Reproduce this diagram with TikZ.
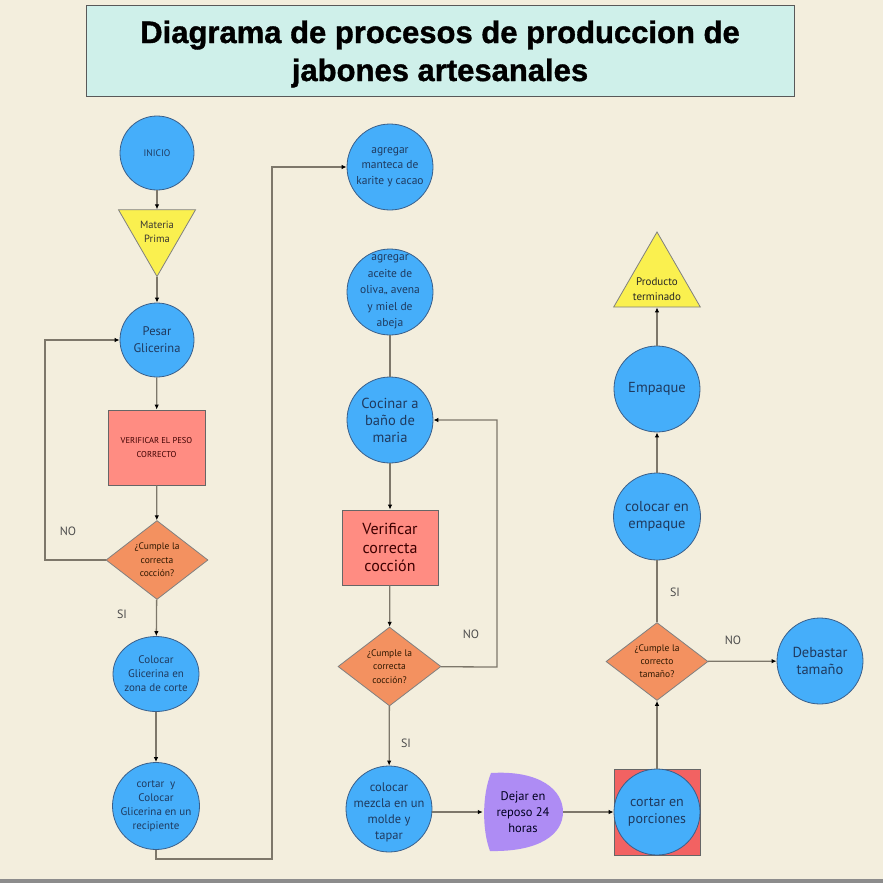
\documentclass[tikz,border=0pt]{standalone}
\usepackage{fontspec}
\setmainfont{PT Sans}
\newfontfamily\titlefont[BoldFeatures={FakeBold=1.2}]{Liberation Sans}
\usetikzlibrary{shapes.geometric,arrows.meta}
\definecolor{fondo}{HTML}{F3EEDD}
\definecolor{titulo}{HTML}{CFF0EA}
\definecolor{azul}{HTML}{45AEFA}
\definecolor{bordeazul}{HTML}{3A5F8A}
\definecolor{textoazul}{HTML}{1F3A5F}
\definecolor{rosa}{HTML}{FF8C82}
\definecolor{rojo}{HTML}{F26262}
\definecolor{naranja}{HTML}{F39160}
\definecolor{amarillo}{HTML}{FAF04F}
\definecolor{morado}{HTML}{AE8CF4}
\definecolor{lineagris}{HTML}{7D776A}
\def\fs#1#2{\fontsize{#1}{#2}\selectfont}
\tikzset{
  linea/.style={draw=lineagris, line width=1.3pt},
  flecha/.style={linea, -{Latex[length=5pt,width=4.5pt,color=black]}},
  paso/.style={circle, draw=bordeazul, line width=0.8pt, fill=azul, text=textoazul,
    inner sep=0pt, minimum size=86pt, align=center},
  textoazul/.style={inner sep=0pt, align=center, text=textoazul},
  revisar/.style={rectangle, draw=black!60, line width=0.8pt, fill=rosa, text=black!60!red!60!black,
    inner sep=0pt, align=center},
  decision/.style={diamond, draw=black!50, line width=0.8pt, fill=naranja, text=black!70!orange!60!black,
    inner sep=0pt, minimum width=102pt, minimum height=74pt, align=center},
  triang/.style={regular polygon, regular polygon sides=3, draw=black!50, line width=0.8pt,
    fill=amarillo, inner sep=0pt},
  etiq/.style={text=black!70, font=\fs{12}{14}}
}
\begin{document}
\begin{tikzpicture}[x=1pt,y=-1pt]
\useasboundingbox[fill=fondo] (0,0) rectangle (883,883);
\fill[black!45] (0,879) rectangle (883,883);
% titulo
\node[draw=black!65, line width=0.8pt, fill=titulo, minimum width=708pt, minimum height=91pt] (tit) at (440,50.5) {};
\node[align=center, font=\titlefont\bfseries\fs{31}{38}] (titt) at (440,54) {Diagrama de procesos de produccion de\\jabones artesanales};
% primera columna
\node[paso, minimum size=74pt, font=\fs{9.5}{10}] (ini) at (157,153) {INICIO};
\node[triang, shape border rotate=180, minimum size=89pt] (mp) at (157,232) {};
\node[align=center, text=black!80!yellow!50!black, font=\fs{10.5}{14}] (mpt) at (157,232) {Materia\\Prima};
\node[paso, minimum size=74pt, font=\fs{12.5}{17}] (pes) at (157,340) {Pesar\\Glicerina};
\node[revisar, minimum width=97pt, minimum height=75pt, font=\fs{8.5}{13.5}] (vp) at (156.5,447.5) {VERIFICAR EL PESO\\CORRECTO};
\node[decision, font=\fs{9.5}{13.5}] (d1) at (157,560) {¿Cumple la\\correcta\\cocción?};
\node[paso, ellipse, minimum width=86pt, minimum height=75pt] (zon) at (156,674) {};
\node[textoazul, font=\fs{11}{14}] (zont) at (156,674) {Colocar\\Glicerina en\\zona de corte};
\node[paso, minimum size=87pt] (rec) at (156,806) {};
\node[textoazul, font=\fs{11}{14}] (rect) at (156,806) {cortar\ \ y\\Colocar\\Glicerina en un\\recipiente};
% segunda columna
\node[paso] (man) at (390,167) {};
\node[textoazul, font=\fs{11.5}{15.5}] (mant) at (390,167) {agregar\\manteca de\\karite y cacao};
\node[paso] (ace) at (390,292) {};
\node[textoazul, font=\fs{11.5}{16.5}] (acet) at (390,292) {agregar\\aceite de\\oliva,, avena\\y miel de\\abeja};
\node[paso, font=\fs{14.5}{17}] (coc) at (390,420) {Cocinar a\\baño de\\maria};
\node[revisar, minimum width=96pt, minimum height=75pt, font=\fs{16}{18.5}] (vc) at (390,547.5) {Verificar\\correcta\\cocción};
\node[decision, minimum width=103pt, minimum height=73pt, font=\fs{9.5}{13.5}] (d2) at (389.5,666.5) {¿Cumple la\\correcta\\cocción?};
\node[paso] (mol) at (389,809) {};
\node[textoazul, font=\fs{12.5}{16}] (molt) at (389,812) {colocar\\mezcla en un\\molde y\\tapar};
% reposo
\fill[morado] (491,773) .. controls (540,770) and (563,790) .. (563,812)
  .. controls (563,834) and (540,852) .. (490,851)
  .. controls (482,830) and (482,795) .. (491,773) -- cycle;
\node[minimum width=80pt, minimum height=78pt, inner sep=0pt, align=center, text=black!70!blue!40!black,
  font=\fs{12.5}{16}] (dej) at (523,812) {Dejar en\\reposo 24\\horas};
% tercera columna
\node[rectangle, draw=black!60, line width=0.8pt, fill=rojo, minimum size=86pt, inner sep=0pt] (por) at (657,812) {};
\node[paso, font=\fs{14}{17}] (porc) at (657,812) {cortar en\\porciones};
\node[decision, font=\fs{9.5}{13}] (d3) at (657,661.5) {¿Cumple la\\correcto\\tamaño?};
\node[paso, font=\fs{14.5}{17}] (deb) at (820,661) {Debastar\\tamaño};
\node[paso, minimum size=87pt, font=\fs{14.5}{17}] (emp1) at (657,516.5) {colocar en\\empaque};
\node[paso, font=\fs{14.5}{17}] (emp2) at (657,389) {Empaque};
\node[triang, minimum size=100pt] (prod) at (657,282) {};
\node[align=center, text=black!85, font=\fs{11}{15}] (prodt) at (657,289) {Producto\\terminado};
% etiquetas
\node[etiq] (no1) at (68,531) {NO};
\node[etiq] (si1) at (122,614) {SI};
\node[etiq] (no2) at (471,634) {NO};
\node[etiq] (si2) at (406,743) {SI};
\node[etiq] (no3) at (733,640) {NO};
\node[etiq] (si3) at (675,592) {SI};
% conectores
\coordinate (l1) at (45,560);
\coordinate (c1) at (272,859);
\coordinate (l2) at (497,667);
\draw[flecha] (ini) -- (mp);
\draw[flecha] (mp) -- (pes);
\draw[flecha] (pes) -- (vp);
\draw[flecha] (vp) -- (d1);
\draw[flecha] (d1) -- (l1) |- (pes);
\draw[flecha] (d1) -- (zon);
\draw[flecha] (zon) -- (rec);
\draw[flecha] (rec.south) |- (c1) |- (man);
\draw[linea] (ace) -- (coc);
\draw[flecha] (coc) -- (vc);
\draw[flecha] (vc) -- (d2);
\draw[flecha] (d2) -- (l2) |- (coc);
\draw[flecha] (d2) -- (mol);
\draw[flecha] (mol.east |- dej) -- (dej);
\draw[flecha] (dej) -- (por);
\draw[flecha] (por) -- (d3);
\draw[flecha] (d3) -- (deb);
\draw[linea] (d3) -- (emp1);
\draw[flecha] (emp1) -- (emp2);
\draw[flecha] (emp2) -- (prod);
\end{tikzpicture}
\end{document}
